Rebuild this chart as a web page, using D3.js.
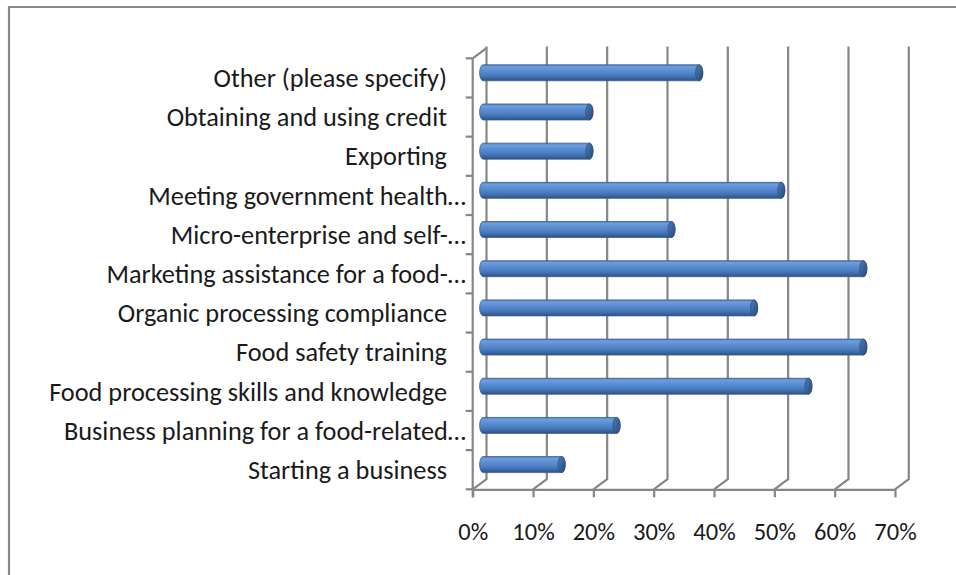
<!DOCTYPE html>
<html>
<head>
<meta charset="utf-8">
<script src="https://cdn.jsdelivr.net/npm/d3@7"></script>
<style>
  html, body { margin: 0; padding: 0; background: #ffffff; }
  svg { display: block; }
  text { font-family: Carlito, Lato, "Open Sans", sans-serif; fill: #1a1a1a; }
</style>
</head>
<body>
<svg id="chart" width="956" height="575"></svg>
<script>
// Survey categories, listed from the top of the chart downwards
const categories = [
  "Other (please specify)",
  "Obtaining and using credit",
  "Exporting",
  "Meeting government health…",
  "Micro-enterprise and self-…",
  "Marketing assistance for a food-…",
  "Organic processing compliance",
  "Food safety training",
  "Food processing skills and knowledge",
  "Business planning for a food-related…",
  "Starting a business"
];
// Share of respondents for each category
const values = [0.364, 0.182, 0.182, 0.500, 0.318, 0.636, 0.455, 0.636, 0.545, 0.227, 0.136];
// Value axis ticks
const tickValues = [0, 0.1, 0.2, 0.3, 0.4, 0.5, 0.6, 0.7];

const svg = d3.select("#chart");

// Outer chart frame
svg.append("path")
  .attr("d", "M9,580 L9,7 L960,7")
  .attr("fill", "none")
  .attr("stroke", "#878787")
  .attr("stroke-width", 2.2);

// Front plane of the 3-D plot area; the back plane is shifted by depth
const x = d3.scaleLinear().domain([0, 0.7]).range([472.7, 895]);
const y = d3.scaleBand().domain(categories).range([58.3, 489.3]).padding(0);
const depth = { dx: 13.8, dy: -10.2 };
const gridColor = "#868686";

const g = svg.append("g");

// Back-wall gridlines with their slanted feet on the floor
tickValues.forEach(v => {
  const xf = x(v), xb = xf + depth.dx;
  const yTop = y.range()[0] + depth.dy - 1.5;
  const yBackBottom = y.range()[1] + depth.dy;
  g.append("path")
    .attr("d", `M${xb},${yTop} L${xb},${yBackBottom} L${xf},${y.range()[1]}`)
    .attr("fill", "none")
    .attr("stroke", gridColor)
    .attr("stroke-width", 2.2);
});

// Left wall: top edge slanting back
g.append("path")
  .attr("d", `M${x(0)},${y.range()[0]} L${x(0) + depth.dx},${y.range()[0] + depth.dy}`)
  .attr("fill", "none")
  .attr("stroke", gridColor)
  .attr("stroke-width", 2.2);

// Category axis line with ticks at the band boundaries
g.append("line")
  .attr("x1", x(0)).attr("x2", x(0))
  .attr("y1", y.range()[0]).attr("y2", y.range()[1] + 8)
  .attr("stroke", gridColor).attr("stroke-width", 2.2);

const boundaries = categories.map(c => y(c)).concat([y.range()[1]]);
g.selectAll(".cat-tick")
  .data(boundaries)
  .join("line")
  .attr("class", "cat-tick")
  .attr("x1", x(0) - 7).attr("x2", x(0))
  .attr("y1", d => d).attr("y2", d => d)
  .attr("stroke", gridColor).attr("stroke-width", 2.2);

// Value axis along the front edge of the floor
const xAxis = d3.axisBottom(x)
  .tickValues(tickValues)
  .tickFormat(d3.format(".0%"))
  .tickSize(8)
  .tickSizeOuter(0)
  .tickPadding(25);

const axisG = g.append("g")
  .attr("transform", `translate(0,${y.range()[1]})`)
  .call(xAxis);
axisG.select(".domain")
  .attr("stroke", gridColor).attr("stroke-width", 2.2);
axisG.selectAll(".tick line")
  .attr("stroke", gridColor).attr("stroke-width", 2.2);
axisG.selectAll(".tick text")
  .attr("fill", "#1a1a1a")
  .style("font-family", "Carlito, Lato, 'Open Sans', sans-serif")
  .style("font-size", "24.5px");

// Category labels; truncated names carry the ellipsis past the text edge
g.selectAll(".cat-label")
  .data(categories)
  .join("text")
  .attr("class", "cat-label")
  .attr("x", d => d.endsWith("…") ? 466 : 447)
  .attr("y", d => y(d) + y.bandwidth() / 2)
  .attr("dy", "0.35em")
  .attr("text-anchor", "end")
  .style("font-size", "26.3px")
  .text(d => d);

// Cylinder shading
const defs = svg.append("defs");
const body = defs.append("linearGradient")
  .attr("id", "cyl").attr("x1", 0).attr("y1", 0).attr("x2", 0).attr("y2", 1);
[
  [0, "#4a79b6"], [0.12, "#6d9fdf"], [0.35, "#5c8ed2"],
  [0.65, "#4a7cc0"], [0.85, "#3b66a2"], [1, "#2b4d7f"]
].forEach(([o, c]) => body.append("stop").attr("offset", o).attr("stop-color", c));

const cap = defs.append("linearGradient")
  .attr("id", "cap").attr("x1", 0).attr("y1", 0).attr("x2", 1).attr("y2", 1);
[[0, "#4f7fbd"], [0.5, "#3a6298"], [1, "#2a4a78"]]
  .forEach(([o, c]) => cap.append("stop").attr("offset", o).attr("stop-color", c));

const r = 8, rx = 3.6;
const bars = g.selectAll(".bar")
  .data(categories.map((c, i) => ({ c, v: values[i] })))
  .join("g")
  .attr("class", "bar")
  .attr("transform", d => `translate(${depth.dx / 2},${y(d.c) + y.bandwidth() / 2 + depth.dy / 2})`);

// Body: left end rounded, right end meets the end face
bars.append("path")
  .attr("d", d => {
    const x0 = x(0) + rx, x1 = x(d.v);
    return `M${x0},${-r} L${x1},${-r} A${rx},${r} 0 0 1 ${x1},${r} L${x0},${r} A${rx},${r} 0 0 1 ${x0},${-r} Z`;
  })
  .attr("fill", "url(#cyl)")
  .attr("stroke", "#3a5f93")
  .attr("stroke-width", 0.8);

// Visible end face
bars.append("ellipse")
  .attr("cx", d => x(d.v))
  .attr("cy", 0)
  .attr("rx", rx)
  .attr("ry", r)
  .attr("fill", "url(#cap)")
  .attr("stroke", "#2f5283")
  .attr("stroke-width", 0.8);
</script>
</body>
</html>
